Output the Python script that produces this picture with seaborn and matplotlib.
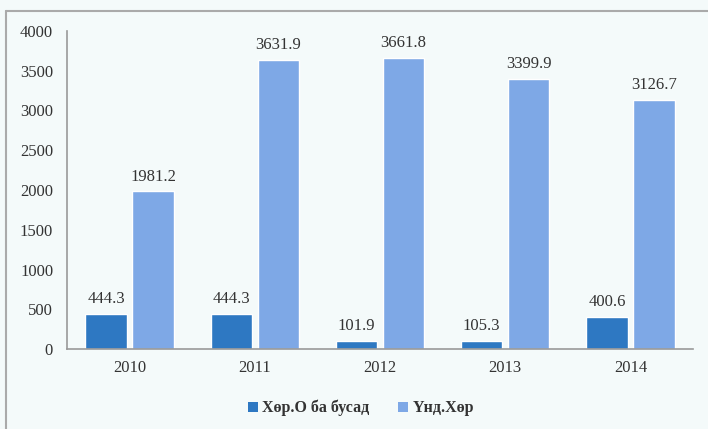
import matplotlib
matplotlib.use("Agg")
import matplotlib.pyplot as plt
import seaborn as sns
import pandas as pd
from matplotlib.patches import Patch

years = ["2010", "2011", "2012", "2013", "2014"]
series_names = ["Хөр.О ба бусад", "Үнд.Хөр"]
vals_a = [444.3, 444.3, 101.9, 105.3, 400.6]
vals_b = [1981.2, 3631.9, 3661.8, 3399.9, 3126.7]
colors = ["#2E78C2", "#7EA8E6"]

df = pd.DataFrame({
    "year": years * 2,
    "series": [series_names[0]] * 5 + [series_names[1]] * 5,
    "value": vals_a + vals_b,
})

sns.set_theme(style="white")
plt.rcParams["font.family"] = ["Liberation Serif", "DejaVu Serif"]

bg = "#F4FAFA"
txt = "#333333"
fig = plt.figure(figsize=(7.08, 4.29), dpi=100, facecolor=bg)
ax = fig.add_axes([67/708, 1 - 349/429, (693-67)/708, (349-31)/429])
ax.set_facecolor(bg)

sns.barplot(data=df, x="year", y="value", hue="series", palette=colors,
            width=0.75, gap=0.12, order=years, hue_order=series_names,
            ax=ax, legend=False, saturation=1)

for cont in ax.containers:
    ax.bar_label(cont, fmt="%.1f", padding=5, fontsize=12, color=txt)

ax.set_ylim(0, 4000)
ax.set_xlim(-0.5, 4.5)
ax.set_yticks(range(0, 4001, 500))
ax.set_xlabel("")
ax.set_ylabel("")
ax.tick_params(axis="both", labelsize=12, colors=txt, length=0, pad=8)
ax.tick_params(axis="y", pad=10)
for s in ["top", "right"]:
    ax.spines[s].set_visible(False)
for s in ["left", "bottom"]:
    ax.spines[s].set_color("#999999")
    ax.spines[s].set_linewidth(1.2)

handles = [Patch(facecolor=c, edgecolor="none") for c in colors]
fig.legend(handles, series_names, loc="center", bbox_to_anchor=(0.51, 1 - 408/429),
           ncol=2, frameon=False, handlelength=0.6, handleheight=0.6,
           handletextpad=0.3, columnspacing=1.8,
           prop={"family": ["Liberation Serif", "DejaVu Serif"], "size": 11.5, "weight": "bold"},
           labelcolor=txt)

# outer frame lines (top and left)
fig.add_artist(plt.Line2D([6/708, 1], [1 - 11/429, 1 - 11/429], color="#AAAAAA", lw=1.5, transform=fig.transFigure))
fig.add_artist(plt.Line2D([6/708, 6/708], [0, 1 - 11/429], color="#AAAAAA", lw=1.5, transform=fig.transFigure))

fig.savefig("out.png", dpi=100, facecolor=bg)
